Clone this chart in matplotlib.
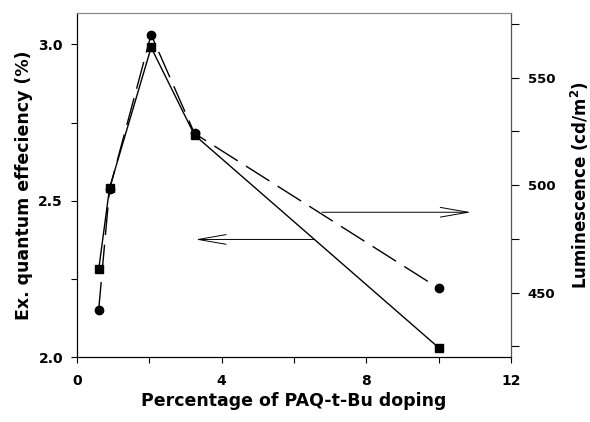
import matplotlib.pyplot as plt

plt.rcParams['font.family'] = ['DejaVu Sans']
plt.rcParams['font.weight'] = 'bold'
plt.rcParams['mathtext.default'] = 'bf'

doping = [0.6, 0.9, 2.05, 3.25, 10.0]
eqe = [2.28, 2.54, 2.99, 2.71, 2.03]          # left axis, solid, squares
lum = [442, 498, 570, 524, 452]               # right axis, dashed, circles

fig = plt.figure(figsize=(5.9, 4.22), dpi=100)
ax = fig.add_axes([0.1305, 0.154, 0.7355, 0.815])
ax2 = ax.twinx()

ax.plot(doping, eqe, color='black', lw=1.0, marker='s', ms=5.5, zorder=3)
ax2.plot(doping, lum, color='black', lw=1.0, dashes=(20, 7), marker='o', ms=6)

ax.set_xlim(0, 12)
ax.set_ylim(2.0, 3.1)
ax2.set_ylim(420, 580)

ax.set_xticks([0, 4, 8, 12])
ax.set_xticks([2, 6, 10], minor=True)
ax.set_yticks([2.0, 2.5, 3.0])
ax.set_yticks([2.25, 2.75], minor=True)
ax2.set_yticks([450, 500, 550])
ax2.set_yticks([425, 475, 525, 575], minor=True)

ax.tick_params(axis='x', which='both', direction='out', length=4, width=0.8,
               labelsize=10, pad=8)
ax.tick_params(axis='y', which='both', direction='out', length=4, width=0.8,
               labelsize=10, pad=6)
ax2.tick_params(axis='y', which='both', direction='out', length=6, width=0.8,
                labelsize=9.5, pad=6)
for a in (ax, ax2):
    for s in a.spines.values():
        s.set_linewidth(0.8)
ax.spines['top'].set_color('#888888')
ax2.spines['top'].set_color('#888888')
ax2.spines['right'].set_color('#555555')

ax.set_xlabel('Percentage of PAQ-t-Bu doping', fontsize=12.5, fontweight='bold', labelpad=3)
ax.set_ylabel('Ex. quantum effeciency (%)', fontsize=12.5, fontweight='bold', labelpad=4)
ax2.set_ylabel('Luminescence (cd/m$^2$)', fontsize=12, fontweight='bold', labelpad=10)

arrow = dict(arrowstyle='->,head_length=2.0,head_width=0.35', color='black', lw=0.7)
ax.annotate('', xy=(3.2, 2.376), xytext=(6.65, 2.376), arrowprops=arrow)
ax.annotate('', xy=(10.97, 2.463), xytext=(6.7, 2.463), arrowprops=arrow)

fig.savefig('out.png', dpi=100)
